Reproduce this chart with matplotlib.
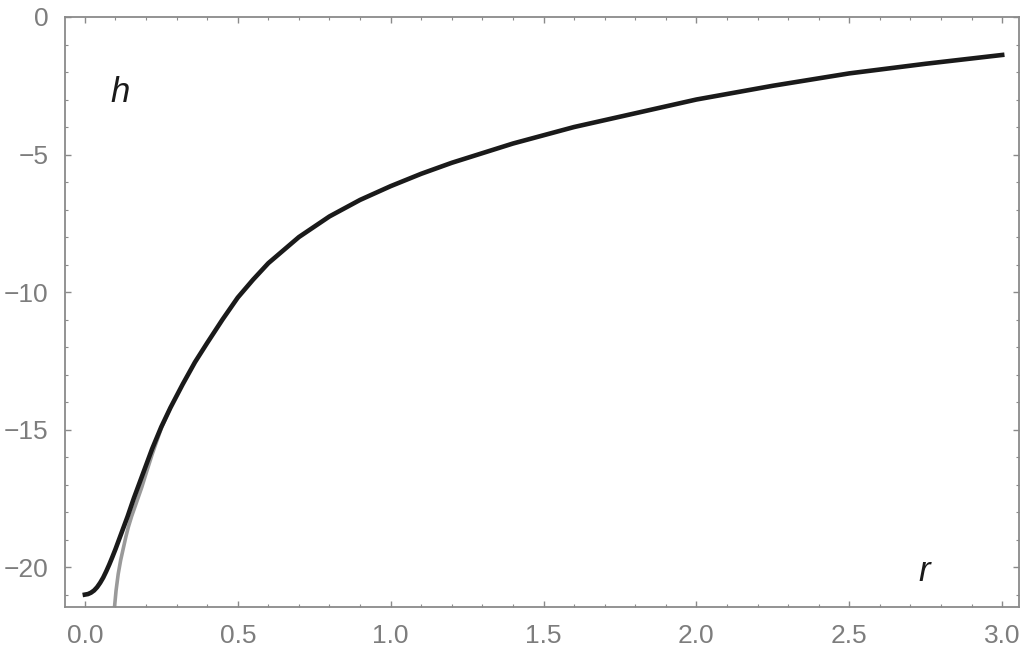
import numpy as np
import matplotlib.pyplot as plt
from matplotlib.ticker import MultipleLocator

# values
r_black = [0.0, 0.01, 0.02, 0.03, 0.04, 0.05, 0.06, 0.07, 0.08, 0.09, 0.10,
           0.12, 0.14, 0.16, 0.18, 0.20, 0.22, 0.25, 0.28, 0.32, 0.36, 0.40,
           0.45, 0.50, 0.55, 0.60, 0.70, 0.80, 0.90, 1.00, 1.10, 1.20, 1.40,
           1.60, 1.80, 2.00, 2.25, 2.50, 2.75, 3.00]
h_black = [-21.0, -20.98, -20.93, -20.85, -20.73, -20.57, -20.38, -20.15,
           -19.9, -19.63, -19.35, -18.75, -18.15, -17.5, -16.9, -16.3, -15.7,
           -14.9, -14.2, -13.35, -12.55, -11.85, -11.0, -10.2, -9.55, -8.95,
           -8.0, -7.25, -6.65, -6.15, -5.7, -5.3, -4.6, -4.0, -3.5, -3.0,
           -2.5, -2.05, -1.7, -1.38]

r_gray = [0.096, 0.102, 0.109, 0.117, 0.126, 0.134, 0.142, 0.153, 0.164,
          0.175, 0.186, 0.20, 0.22, 0.25, 0.28]
h_gray = [-21.56, -20.85, -20.25, -19.75, -19.3, -18.9, -18.55, -18.15,
          -17.8, -17.45, -17.1, -16.6, -15.9, -14.95, -14.2]

x_ticks = [0.0, 0.5, 1.0, 1.5, 2.0, 2.5, 3.0]
x_labels = ['0.0', '0.5', '1.0', '1.5', '2.0', '2.5', '3.0']
y_ticks = [0, -5, -10, -15, -20]
y_labels = ['0', '\u22125', '\u221210', '\u221215', '\u221220']

plt.rcParams['font.family'] = ['Liberation Sans', 'DejaVu Sans']
frame_col = '#8a8a8a'
label_col = '#7d7d7d'

fig = plt.figure(figsize=(10.25, 6.52), dpi=100)
ax = fig.add_axes([65 / 1025, 1 - 607 / 652, (1019 - 65) / 1025, (607 - 17) / 652])

ax.plot(r_gray, h_gray, color='#9a9a9a', lw=2.6, solid_capstyle='butt', zorder=2)
ax.plot(r_black, h_black, color='#1a1a1a', lw=3.3, zorder=3,
        solid_joinstyle='round')

ax.set_xlim(-0.065, 3.055)
ax.set_ylim(-21.45, 0)

ax.set_xticks(x_ticks)
ax.set_xticklabels(x_labels)
ax.set_yticks(y_ticks)
ax.set_yticklabels(y_labels)
ax.xaxis.set_minor_locator(MultipleLocator(0.1))
ax.yaxis.set_minor_locator(MultipleLocator(1))

ax.tick_params(which='both', direction='in', top=True, right=True,
               color=frame_col, labelcolor=label_col, labelsize=19)
ax.tick_params(which='major', length=4, width=1)
ax.tick_params(which='minor', length=2.5, width=0.8)
ax.tick_params(axis='x', pad=12)
ax.tick_params(axis='y', pad=12)

for s in ax.spines.values():
    s.set_color(frame_col)
    s.set_linewidth(1.3)

ax.text(0.115, -2.75, 'h', fontsize=25, style='italic', color='#1a1a1a',
        ha='center', va='center')
ax.text(2.745, -20.15, 'r', fontsize=25, style='italic', color='#1a1a1a',
        ha='center', va='center')

fig.savefig('out.png', dpi=100)
